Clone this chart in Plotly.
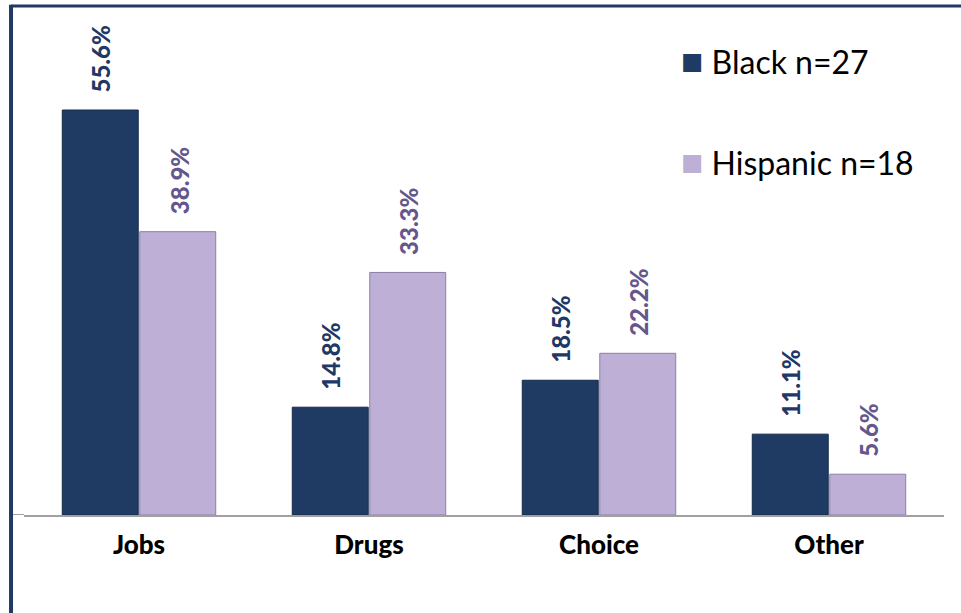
import plotly.graph_objects as go

categories = ["Jobs", "Drugs", "Choice", "Other"]
black_vals = [55.6, 14.8, 18.5, 11.1]
hisp_vals = [38.9, 33.3, 22.2, 5.6]
series_names = ["Black n=27", "Hispanic n=18"]

NAVY = "#1F3B63"
LAV = "#BDAFD5"
NAVY_TXT = "#1F3866"
LAV_TXT = "#65578C"

fig = go.Figure()
fig.add_trace(go.Bar(x=categories, y=black_vals, name=series_names[0],
                     marker=dict(color=NAVY, line=dict(color="#142a48", width=1))))
fig.add_trace(go.Bar(x=categories, y=hisp_vals, name=series_names[1],
                     marker=dict(color=LAV, line=dict(color="#8d7fa6", width=1))))

ann = []
for cat, v in zip(categories, black_vals):
    ann.append(dict(x=cat, y=v, xref="x", yref="y", text=f"{v:.1f}%", textangle=-90,
                    showarrow=False, xanchor="center", yanchor="bottom", xshift=-38, yshift=15,
                    font=dict(family="Lato", size=24, color=NAVY_TXT, weight=900)))
for cat, v in zip(categories, hisp_vals):
    ann.append(dict(x=cat, y=v, xref="x", yref="y", text=f"{v:.1f}%", textangle=-90,
                    showarrow=False, xanchor="center", yanchor="bottom", xshift=40, yshift=15,
                    font=dict(family="Lato", size=24, color=LAV_TXT, weight=900)))

# legend entries
for name, col, yp in [(series_names[0], NAVY, 0.92), (series_names[1], LAV, 0.716)]:
    ann.append(dict(x=0.712, y=yp, xref="paper", yref="paper", showarrow=False,
                    xanchor="left", yanchor="middle",
                    text=f"<span style='color:{col};font-size:37px'>■</span> {name}",
                    font=dict(family="Lato", size=32, color="#000000")))

fig.update_layout(
    width=961, height=613,
    margin=dict(l=24, r=17, t=20, b=98),
    paper_bgcolor="white", plot_bgcolor="white",
    barmode="group", bargap=0.326, bargroupgap=0.02,
    showlegend=False,
    annotations=ann,
    xaxis=dict(showline=True, linecolor="#A0A0A0", linewidth=2, ticks="",
               tickfont=dict(family="Lato", size=26, color="#000000", weight=900),
               ticklabelstandoff=6, showgrid=False, zeroline=False),
    yaxis=dict(range=[0, 67.96], visible=False, showgrid=False, zeroline=False),
    shapes=[
        dict(type="line", xref="paper", yref="paper", x0=-0.0141, x1=1.02, y0=1.0283, y1=1.0283,
             line=dict(color=NAVY, width=3)),
        dict(type="line", xref="paper", yref="paper", x0=-0.0141, x1=-0.0141, y0=1.031, y1=-0.25,
             line=dict(color=NAVY, width=4)),
        dict(type="line", xref="paper", yref="y", x0=-0.012, x1=0, y0=0, y1=0,
             line=dict(color="#A0A0A0", width=2)),
    ],
)

fig.write_html("out.html")
